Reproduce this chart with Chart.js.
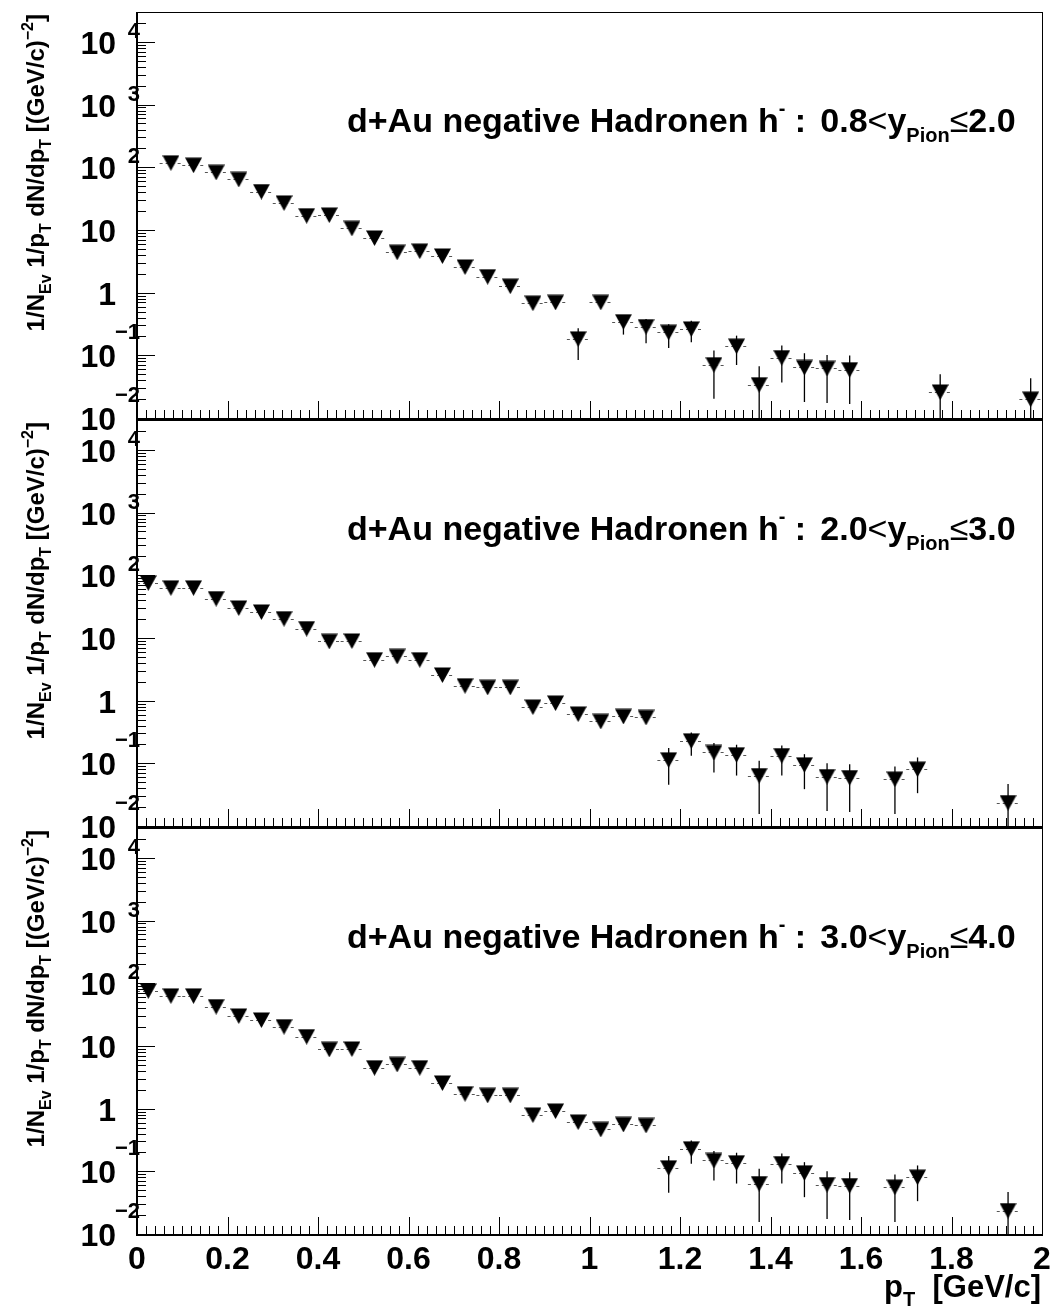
<!DOCTYPE html>
<html>
<head>
<meta charset="utf-8">
<script src="https://cdn.jsdelivr.net/npm/chart.js@4.4.1/dist/chart.umd.min.js"></script>
<style>
  body { margin: 0; background: #fff; }
  #wrap { position: relative; width: 1055px; height: 1309px; }
  #wrap canvas { position: absolute; left: 0; top: 0; }
</style>
</head>
<body>
<div id="wrap">
  <canvas id="panel1" width="1055" height="1309"></canvas>
  <canvas id="panel2" width="1055" height="1309"></canvas>
  <canvas id="panel3" width="1055" height="1309"></canvas>
</div>
<script>
// --- Data (p_T bin centres, yield per bin) ---
const BIN_HALF_WIDTH = 0.025;

// panel 1 : 0.8 < y <= 2.0
const ptPanel1 = [0.075, 0.125, 0.175, 0.225, 0.275, 0.325, 0.375, 0.425, 0.475, 0.525,
                  0.575, 0.625, 0.675, 0.725, 0.775, 0.825, 0.875, 0.925, 0.975, 1.025,
                  1.075, 1.125, 1.175, 1.225, 1.275, 1.325, 1.375, 1.425, 1.475, 1.525,
                  1.575, 1.775, 1.975];
const yieldPanel1 = [118, 108, 83, 64, 41, 27, 16.9, 17.3, 10.6, 7.45,
                     4.4, 4.6, 3.85, 2.57, 1.80, 1.27, 0.68, 0.70, 0.183, 0.70,
                     0.344, 0.287, 0.233, 0.264, 0.071, 0.14, 0.034, 0.092, 0.064, 0.062,
                     0.059, 0.026, 0.020];
// error bar ends (null = hidden behind the marker)
const errLowPanel1 = [null, null, null, null, null, null, null, null, null, null,
                      null, null, null, null, null, null, null, null, 0.0845, null,
                      0.214, 0.156, 0.131, 0.162, 0.0202, 0.070, 0.001, 0.037, 0.018, 0.0174,
                      0.0168, 0.001, 0.001];
const errHighPanel1 = [null, null, null, null, null, null, null, null, null, null,
                       null, null, null, null, null, null, null, null, 0.270, null,
                       0.44, 0.38, 0.313, 0.357, 0.119, 0.206, 0.067, 0.143, 0.108, 0.101,
                       0.099, 0.050, 0.043];

// panels 2 and 3 : 2.0 < y <= 3.0 and 3.0 < y <= 4.0 (same points in the picture)
const ptPanel2 = [0.025, 0.075, 0.125, 0.175, 0.225, 0.275, 0.325, 0.375, 0.425, 0.475,
                  0.525, 0.575, 0.625, 0.675, 0.725, 0.775, 0.825, 0.875, 0.925, 0.975,
                  1.025, 1.075, 1.125, 1.175, 1.225, 1.275, 1.325, 1.375, 1.425, 1.475,
                  1.525, 1.575, 1.675, 1.725, 1.925];
const yieldPanel2 = [75.7, 63, 63, 42.5, 30.1, 26.0, 20.3, 14.1, 8.83, 8.96,
                     4.50, 5.08, 4.50, 2.57, 1.73, 1.63, 1.63, 0.79, 0.916, 0.611,
                     0.466, 0.56, 0.54, 0.1138, 0.2286, 0.149, 0.137, 0.0638, 0.133, 0.0947,
                     0.0615, 0.0593, 0.056, 0.0807, 0.0237];
const errLowPanel2 = [null, null, null, null, null, null, null, null, null, null,
                      null, null, null, null, null, null, null, null, null, null,
                      null, null, null, 0.0454, 0.132, 0.0713, 0.0638, 0.0156, 0.0638, 0.0387,
                      0.0174, 0.0168, 0.0156, 0.0334, 0.001];
const errHighPanel2 = [null, null, null, null, null, null, null, null, null, null,
                       null, null, null, null, null, null, null, null, null, null,
                       null, null, null, 0.175, 0.310, 0.210, 0.198, 0.1096, 0.192, 0.140,
                       0.1007, 0.097, 0.089, 0.124, 0.0466];

const ptPanel3 = ptPanel2;
const yieldPanel3 = yieldPanel2;
const errLowPanel3 = errLowPanel2;
const errHighPanel3 = errHighPanel2;

const rapidityLow = ["0.8", "2.0", "3.0"];
const rapidityHigh = ["2.0", "3.0", "4.0"];

const xTickValues = [0, 0.2, 0.4, 0.6, 0.8, 1, 1.2, 1.4, 1.6, 1.8, 2];
const xTickLabels = ["0", "0.2", "0.4", "0.6", "0.8", "1", "1.2", "1.4", "1.6", "1.8", "2"];
const yDecades = [-2, -1, 0, 1, 2, 3, 4];
const yDecadeBase = ["10", "10", "1", "10", "10", "10", "10"];
const yDecadeExp = ["\u22122", "\u22121", "", "", "2", "3", "4"];

// --- Layout ---
const CANVAS_W = 1055, CANVAS_H = 1309;
const FRAME_LEFT = 137, FRAME_RIGHT = 1042;
const PANEL_TOPS = [12, 420, 828];
const PANEL_BOTTOMS = [418, 826, 1234];
const FONT = '"Liberation Sans", Arial, Helvetica, sans-serif';

// downward triangle marker (bbox centred, like ROOT marker 23)
function makeTriangle() {
    const c = document.createElement("canvas");
    c.width = 17; c.height = 16;
    const g = c.getContext("2d");
    g.fillStyle = "#000";
    g.beginPath();
    g.moveTo(0, 0.5);
    g.lineTo(17, 0.5);
    g.lineTo(8.5, 16);
    g.closePath();
    g.fill();
    return c;
}
const triangleMarker = makeTriangle();

// draw a run of text pieces with sub/superscripts: [text, sizeFactor, dyFactor, weight]
function drawParts(ctx, parts, x, y, base, align) {
    let total = 0;
    const widths = parts.map(p => {
        ctx.font = `${p[3] || "bold"} ${Math.round(base * p[1])}px ${FONT}`;
        const w = ctx.measureText(p[0]).width;
        total += w;
        return w;
    });
    let cx = align === "right" ? x - total : x;
    parts.forEach((p, i) => {
        ctx.font = `${p[3] || "bold"} ${Math.round(base * p[1])}px ${FONT}`;
        ctx.fillText(p[0], cx, y + p[2] * base);
        cx += widths[i];
    });
    return total;
}

function makePanelPlugin(index, errLow, errHigh, xs, ys) {
    return {
        id: "rootPanel" + index,
        beforeDatasetsDraw(chart) {
            const { ctx, chartArea, scales } = chart;
            const xs_ = scales.x, ys_ = scales.y;
            ctx.save();
            ctx.beginPath();
            ctx.rect(chartArea.left, chartArea.top, chartArea.right - chartArea.left, chartArea.bottom - chartArea.top);
            ctx.clip();
            // horizontal bin-width error lines
            ctx.strokeStyle = "#555";
            ctx.lineWidth = 1;
            ctx.setLineDash([3, 3]);
            xs.forEach((x, i) => {
                const py = Math.round(ys_.getPixelForValue(ys[i])) + 0.5;
                ctx.beginPath();
                ctx.moveTo(xs_.getPixelForValue(x - BIN_HALF_WIDTH), py);
                ctx.lineTo(xs_.getPixelForValue(x + BIN_HALF_WIDTH), py);
                ctx.stroke();
            });
            // vertical statistical error bars
            ctx.setLineDash([]);
            ctx.strokeStyle = "#000";
            ctx.lineWidth = 1.3;
            xs.forEach((x, i) => {
                if (errLow[i] === null) return;
                const px = xs_.getPixelForValue(x);
                ctx.beginPath();
                ctx.moveTo(px, ys_.getPixelForValue(errHigh[i]));
                ctx.lineTo(px, ys_.getPixelForValue(errLow[i]));
                ctx.stroke();
            });
            ctx.restore();
        },
        afterDraw(chart) {
            const { ctx, chartArea, scales } = chart;
            const xs_ = scales.x, ys_ = scales.y;
            const L = chartArea.left, R = chartArea.right, T = chartArea.top, B = chartArea.bottom;
            ctx.save();
            ctx.fillStyle = "#000";
            ctx.strokeStyle = "#000";

            // frame
            ctx.lineWidth = 1;
            ctx.strokeRect(L + 0.5, T + 0.5, R - L, B - T);
            ctx.lineWidth = 2;
            ctx.beginPath();
            ctx.moveTo(L, T); ctx.lineTo(L, B + 1); ctx.lineTo(R + 1, B + 1);
            ctx.stroke();

            // y ticks (log, inside)
            ctx.lineWidth = 1;
            yDecades.forEach(d => {
                for (let m = 1; m <= 9; m++) {
                    const v = m * Math.pow(10, d);
                    if (v < ys_.min * 0.999 || v > ys_.max) continue;
                    const py = Math.round(ys_.getPixelForValue(v)) + 0.5;
                    ctx.beginPath();
                    ctx.moveTo(L, py);
                    ctx.lineTo(L + (m === 1 ? 18 : 9), py);
                    ctx.stroke();
                }
            });
            // x ticks (inside, from the bottom)
            for (let i = 0; i <= 100; i++) {
                const px = Math.round(xs_.getPixelForValue(i * 0.02)) + 0.5;
                ctx.beginPath();
                ctx.moveTo(px, B);
                ctx.lineTo(px, B - (i % 10 === 0 ? 17 : 8));
                ctx.stroke();
            }

            // y labels, ROOT style 10 + exponent
            ctx.textBaseline = "alphabetic";
            yDecades.forEach((d, i) => {
                const py = ys_.getPixelForValue(Math.pow(10, d));
                ctx.textAlign = "right";
                ctx.font = `bold 32px ${FONT}`;
                ctx.fillText(yDecadeBase[i], 116, py + 12);
                if (yDecadeExp[i]) {
                    ctx.font = `bold 22px ${FONT}`;
                    ctx.fillText(yDecadeExp[i], 140, py + (d < 0 ? -16 : -4));
                }
            });
            ctx.textAlign = "left";

            // y title, rotated, ending at the top of the frame
            ctx.save();
            ctx.translate(44, T + 2);
            ctx.rotate(-Math.PI / 2);
            drawParts(ctx, [
                ["1/N", 1, 0], ["Ev", 0.65, 0.3], [" 1/p", 1, 0], ["T", 0.65, 0.3],
                [" dN/dp", 1, 0], ["T", 0.65, 0.3], [" [(GeV/c)", 1, 0], ["\u22122", 0.65, -0.45], ["]", 1, 0]
            ], 0, 0, 24, "right");
            ctx.restore();

            // rapidity annotation
            drawParts(ctx, [
                ["d+Au negative Hadronen h", 1, 0], ["-", 0.6, -0.5], [" : ", 1, 0], [" ", 0.5, 0],
                [rapidityLow[index], 1, 0], ["<", 1, 0, "normal"], ["y", 1, 0], ["Pion", 0.6, 0.3],
                ["\u2264", 1, 0, "normal"], [rapidityHigh[index], 1, 0]
            ], 347, T + 120, 34, "left");

            // x labels + title only under the last panel
            if (index === 2) {
                ctx.font = `bold 32px ${FONT}`;
                ctx.textAlign = "center";
                xTickValues.forEach((v, i) => {
                    ctx.fillText(xTickLabels[i], xs_.getPixelForValue(v), B + 35);
                });
                ctx.textAlign = "left";
                drawParts(ctx, [["p", 1, 0], ["T", 0.65, 0.3], ["  [GeV/c]", 1, 0]], 1041, B + 63, 31, "right");
            }
            ctx.restore();
        }
    };
}

const panelData = [
    [ptPanel1, yieldPanel1, errLowPanel1, errHighPanel1],
    [ptPanel2, yieldPanel2, errLowPanel2, errHighPanel2],
    [ptPanel3, yieldPanel3, errLowPanel3, errHighPanel3]
];

panelData.forEach((pd, idx) => {
    const [xs, ys, lo, hi] = pd;
    const canvas = document.getElementById("panel" + (idx + 1));
    new Chart(canvas.getContext("2d"), {
        type: "scatter",
        data: {
            datasets: [{
                data: xs.map((x, i) => ({ x: x, y: ys[i] })),
                pointStyle: triangleMarker,
                pointRadius: 8,
                pointHoverRadius: 8,
                showLine: false
            }]
        },
        options: {
            responsive: false,
            animation: false,
            devicePixelRatio: 1,
            events: [],
            layout: {
                padding: {
                    left: FRAME_LEFT,
                    right: CANVAS_W - FRAME_RIGHT,
                    top: PANEL_TOPS[idx],
                    bottom: CANVAS_H - PANEL_BOTTOMS[idx]
                }
            },
            scales: {
                x: { type: "linear", min: 0, max: 2, display: false },
                y: { type: "logarithmic", min: 0.01, max: 30000, display: false }
            },
            plugins: {
                legend: { display: false },
                tooltip: { enabled: false }
            }
        },
        plugins: [makePanelPlugin(idx, lo, hi, xs, ys)]
    });
});
</script>
</body>
</html>
